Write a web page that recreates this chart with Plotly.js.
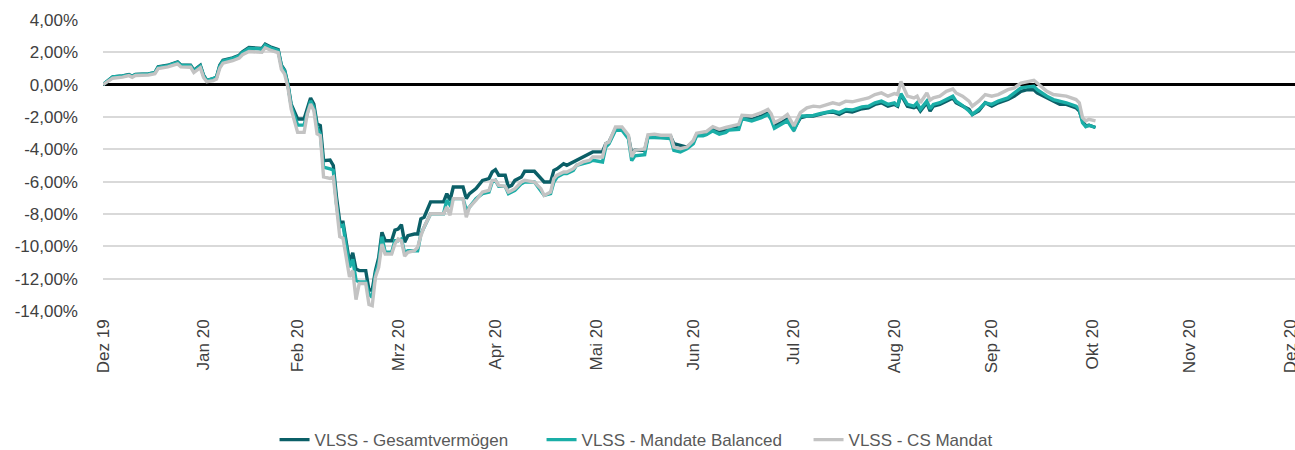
<!DOCTYPE html>
<html>
<head>
<meta charset="utf-8">
<script src="https://cdn.plot.ly/plotly-3.0.1.min.js"></script>
<style>
html,body{margin:0;padding:0;background:#fff;}
#chart{width:1295px;height:450px;}
</style>
</head>
<body>
<div id="chart"></div>
<script>
const dates = [
'2019-12-31','2020-01-03','2020-01-06','2020-01-08','2020-01-09','2020-01-10','2020-01-14','2020-01-16','2020-01-17','2020-01-20',
'2020-01-23','2020-01-24','2020-01-27','2020-01-28','2020-01-30','2020-01-31','2020-02-01','2020-02-03','2020-02-04','2020-02-05',
'2020-02-06','2020-02-09','2020-02-11','2020-02-12','2020-02-14','2020-02-17','2020-02-18','2020-02-19','2020-02-21','2020-02-23',
'2020-02-24','2020-02-25','2020-02-26','2020-02-27','2020-02-29','2020-03-02','2020-03-03','2020-03-04','2020-03-05','2020-03-06',
'2020-03-07','2020-03-08','2020-03-10','2020-03-11','2020-03-12','2020-03-13','2020-03-14','2020-03-16','2020-03-17','2020-03-18',
'2020-03-19','2020-03-21','2020-03-22','2020-03-23','2020-03-24','2020-03-25','2020-03-26','2020-03-27','2020-03-29','2020-03-30',
'2020-03-31','2020-04-01','2020-04-02','2020-04-03','2020-04-05','2020-04-06','2020-04-07','2020-04-08','2020-04-10','2020-04-14',
'2020-04-15','2020-04-16','2020-04-17','2020-04-20','2020-04-21','2020-04-22','2020-04-24','2020-04-26','2020-04-28','2020-04-29',
'2020-04-30','2020-05-01','2020-05-03','2020-05-04','2020-05-05','2020-05-06','2020-05-08','2020-05-09','2020-05-12','2020-05-14',
'2020-05-15','2020-05-17','2020-05-18','2020-05-19','2020-05-21','2020-05-22','2020-05-24','2020-05-25','2020-05-27','2020-05-29',
'2020-05-30','2020-06-02','2020-06-03','2020-06-04','2020-06-06','2020-06-08','2020-06-10','2020-06-11','2020-06-12','2020-06-15',
'2020-06-16','2020-06-18','2020-06-20','2020-06-23','2020-06-24','2020-06-26','2020-06-28','2020-06-30','2020-07-01','2020-07-03',
'2020-07-04','2020-07-06','2020-07-08','2020-07-10','2020-07-11','2020-07-14','2020-07-15','2020-07-18','2020-07-21','2020-07-23',
'2020-07-24','2020-07-25','2020-07-27','2020-07-29','2020-07-31','2020-08-02','2020-08-04','2020-08-06','2020-08-08','2020-08-10',
'2020-08-12','2020-08-14','2020-08-16','2020-08-18','2020-08-21','2020-08-23','2020-08-25','2020-08-27','2020-08-29','2020-08-31',
'2020-09-01','2020-09-02','2020-09-04','2020-09-06','2020-09-07','2020-09-08','2020-09-10','2020-09-11','2020-09-12','2020-09-14',
'2020-09-16','2020-09-18','2020-09-19','2020-09-21','2020-09-23','2020-09-24','2020-09-26','2020-09-28','2020-09-30','2020-10-02',
'2020-10-05','2020-10-07','2020-10-09','2020-10-11','2020-10-13','2020-10-14','2020-10-16','2020-10-17','2020-10-19','2020-10-21',
'2020-10-23','2020-10-26','2020-10-27','2020-10-28','2020-10-29','2020-10-30','2020-11-01'
];

const gesamtvermoegen = [
0,0.48,0.54,0.62,0.52,0.64,0.66,0.75,1.10,1.20,
1.41,1.22,1.20,0.89,1.20,0.58,0.27,0.37,0.48,1.20,
1.51,1.66,1.82,2.03,2.30,2.28,2.24,2.50,2.30,2.17,
1.20,0.89,0.04,-1.20,-2.12,-2.12,-1.50,-0.82,-1.20,-2.43,
-2.53,-4.70,-4.66,-5.00,-6.97,-8.50,-8.50,-11.00,-10.40,-11.40,
-11.50,-11.50,-12.70,-12.70,-11.50,-10.70,-9.13,-9.65,-9.65,-9.00,
-8.93,-8.66,-9.75,-9.34,-9.24,-9.24,-8.30,-8.20,-7.25,-7.25,
-6.74,-7.15,-6.33,-6.33,-7.05,-6.74,-6.43,-5.92,-5.81,-5.40,
-5.26,-5.60,-5.60,-6.33,-6.23,-5.92,-5.71,-5.36,-5.36,-5.81,
-6.02,-6.02,-5.30,-5.20,-4.89,-4.99,-4.78,-4.68,-4.47,-4.23,
-4.16,-4.16,-3.65,-3.55,-2.72,-2.72,-3.24,-4.27,-4.06,-4.06,
-3.25,-3.13,-3.18,-3.20,-3.65,-3.75,-3.86,-3.55,-3.10,-3.05,
-3.05,-2.76,-2.86,-2.80,-2.71,-2.65,-2.04,-2.14,-1.94,-1.73,
-2.06,-2.55,-2.35,-2.14,-2.75,-2.05,-1.94,-1.94,-1.84,-1.73,
-1.69,-1.84,-1.63,-1.69,-1.49,-1.43,-1.22,-1.12,-1.33,-1.22,
-1.33,-0.61,-1.33,-1.43,-1.33,-1.63,-1.12,-1.63,-1.33,-1.22,
-1.02,-0.82,-1.12,-1.33,-1.53,-1.84,-1.63,-1.12,-1.33,-1.12,
-0.92,-0.71,-0.41,-0.31,-0.31,-0.51,-0.71,-0.82,-1.02,-1.22,
-1.22,-1.43,-1.63,-2.24,-2.55,-2.51,-2.65
];

const mandateBalanced = [
0,0.48,0.54,0.60,0.52,0.62,0.66,0.74,1.08,1.18,
1.38,1.20,1.17,0.85,1.15,0.55,0.25,0.35,0.45,1.15,
1.47,1.62,1.78,1.98,2.24,2.22,2.18,2.44,2.25,2.12,
1.15,0.85,0.00,-1.30,-2.50,-2.50,-1.70,-1.00,-1.40,-2.64,
-3.05,-5.10,-5.20,-5.30,-7.40,-8.80,-8.70,-11.30,-10.80,-12.10,
-12.20,-12.20,-12.95,-13.15,-11.70,-11.00,-9.40,-10.37,-10.37,-9.65,
-9.65,-9.55,-10.40,-10.27,-10.27,-10.27,-9.24,-8.80,-7.98,-7.98,
-7.15,-7.45,-7.05,-7.05,-7.75,-7.57,-7.05,-6.74,-6.64,-6.02,
-5.92,-6.29,-6.29,-6.74,-6.64,-6.54,-6.12,-6.02,-6.02,-6.54,
-6.85,-6.74,-6.02,-5.71,-5.50,-5.50,-5.30,-4.99,-4.89,-4.78,
-4.68,-4.78,-3.86,-3.65,-2.82,-2.82,-3.34,-4.70,-4.40,-4.33,
-3.25,-3.24,-3.28,-3.34,-4.06,-4.16,-3.96,-3.65,-3.16,-3.16,
-3.10,-2.86,-3.06,-2.95,-2.80,-2.76,-2.10,-2.24,-2.04,-1.84,
-2.16,-2.70,-2.45,-2.24,-2.86,-1.94,-1.94,-1.90,-1.80,-1.69,
-1.63,-1.73,-1.53,-1.57,-1.37,-1.33,-1.12,-1.02,-1.22,-1.12,
-1.33,-0.55,-1.22,-1.33,-1.12,-1.53,-1.02,-1.49,-1.22,-1.12,
-0.92,-0.71,-1.02,-1.29,-1.63,-1.84,-1.53,-1.12,-1.22,-1.02,
-0.82,-0.51,-0.20,-0.14,-0.10,-0.31,-0.61,-0.71,-0.92,-1.02,
-1.12,-1.33,-1.53,-2.35,-2.60,-2.51,-2.65
];

const csMandat = [
0,0.40,0.47,0.56,0.46,0.57,0.60,0.68,1.00,1.10,
1.28,1.10,1.08,0.75,1.05,0.45,0.18,0.25,0.35,1.02,
1.33,1.48,1.64,1.85,2.05,2.04,2.00,2.28,2.10,1.98,
0.95,0.65,-0.15,-1.50,-2.95,-2.95,-1.80,-1.20,-1.60,-3.05,
-3.15,-5.70,-5.80,-5.70,-7.80,-9.40,-9.50,-11.90,-11.50,-13.30,
-12.30,-12.30,-13.60,-13.67,-11.90,-11.30,-9.85,-10.47,-10.47,-9.85,
-9.55,-9.65,-10.60,-10.37,-10.27,-10.06,-9.35,-8.80,-7.98,-7.98,
-7.57,-8.08,-7.05,-7.05,-8.20,-7.57,-7.15,-6.64,-6.54,-5.92,
-5.92,-6.23,-6.29,-6.64,-6.54,-6.43,-6.02,-5.92,-6.02,-6.43,
-6.85,-6.64,-5.81,-5.60,-5.40,-5.40,-5.20,-4.99,-4.78,-4.68,
-4.47,-4.47,-3.65,-3.55,-2.62,-2.62,-3.13,-4.47,-4.06,-3.98,
-3.10,-3.06,-3.13,-3.13,-3.86,-3.96,-3.86,-3.45,-3.00,-2.95,
-2.90,-2.60,-2.76,-2.65,-2.60,-2.45,-1.90,-1.94,-1.73,-1.53,
-1.80,-2.35,-2.14,-1.84,-2.55,-1.73,-1.43,-1.33,-1.37,-1.22,
-1.12,-1.22,-1.02,-1.06,-0.92,-0.82,-0.61,-0.51,-0.71,-0.55,
-0.61,0.20,-0.71,-0.82,-0.71,-1.12,-0.51,-0.96,-0.82,-0.71,
-0.41,-0.27,-0.51,-0.71,-1.02,-1.33,-1.02,-0.61,-0.71,-0.61,
-0.31,-0.20,0.10,0.20,0.27,0.10,-0.20,-0.41,-0.61,-0.67,
-0.71,-0.92,-1.12,-2.04,-2.24,-2.14,-2.24
];

const seriesNames = ['VLSS - Gesamtvermögen','VLSS - Mandate Balanced','VLSS - CS Mandat'];
const seriesColors = ['#0b5f67','#1aaea7','#c3c3c3'];

const xTickDates = ['2019-12-31','2020-01-31','2020-02-29','2020-03-31','2020-04-30','2020-05-31','2020-06-30','2020-07-31','2020-08-31','2020-09-30','2020-10-31','2020-11-30','2020-12-31'];
const xTickLabels = ['Dez 19','Jan 20','Feb 20','Mrz 20','Apr 20','Mai 20','Jun 20','Jul 20','Aug 20','Sep 20','Okt 20','Nov 20','Dez 20'];
const yTickVals = [-14,-12,-10,-8,-6,-4,-2,0,2,4];
const yTickLabels = ['-14,00%','-12,00%','-10,00%','-8,00%','-6,00%','-4,00%','-2,00%','0,00%','2,00%','4,00%'];

const seriesValues = [gesamtvermoegen, mandateBalanced, csMandat];
const traces = seriesValues.map((vals, i) => ({
  type: 'scatter',
  mode: 'lines',
  x: dates,
  y: vals,
  name: seriesNames[i],
  line: {color: seriesColors[i], width: 3.4},
  hoverinfo: 'skip'
}));

const fontFam = 'Liberation Sans, Arial, Helvetica, sans-serif';
const layout = {
  width: 1295,
  height: 450,
  paper_bgcolor: '#ffffff',
  plot_bgcolor: '#ffffff',
  margin: {l: 103, r: 0, t: 20, b: 139},
  font: {family: fontFam, size: 17, color: '#404040'},
  showlegend: true,
  legend: {
    orientation: 'h',
    xref: 'container', yref: 'container',
    x: 0.212, xanchor: 'left',
    y: 0.022, yanchor: 'middle',
    font: {family: fontFam, size: 17, color: '#595959'},
    entrywidth: 222,
    entrywidthmode: 'pixels'
  },
  xaxis: {
    type: 'date',
    range: ['2019-12-31', '2021-01-01 12:00'],
    tickmode: 'array',
    tickvals: xTickDates,
    ticktext: xTickLabels,
    tickangle: -90,
    showgrid: false,
    zeroline: false,
    showline: false,
    ticks: '',
    ticklabelstandoff: 4,
    ticklabeloverflow: 'allow',
    tickfont: {family: fontFam, size: 17, color: '#404040'},
    fixedrange: true
  },
  yaxis: {
    range: [-14, 4],
    tickmode: 'array',
    tickvals: yTickVals,
    ticktext: yTickLabels,
    showgrid: true,
    gridcolor: '#d9d9d9',
    gridwidth: 2,
    zeroline: true,
    zerolinecolor: '#000000',
    zerolinewidth: 3.5,
    showline: false,
    ticks: '',
    ticklabelstandoff: 24,
    tickfont: {family: fontFam, size: 17, color: '#404040'},
    fixedrange: true
  }
};

Plotly.newPlot('chart', traces, layout, {displayModeBar: false, staticPlot: true});
</script>
</body>
</html>
